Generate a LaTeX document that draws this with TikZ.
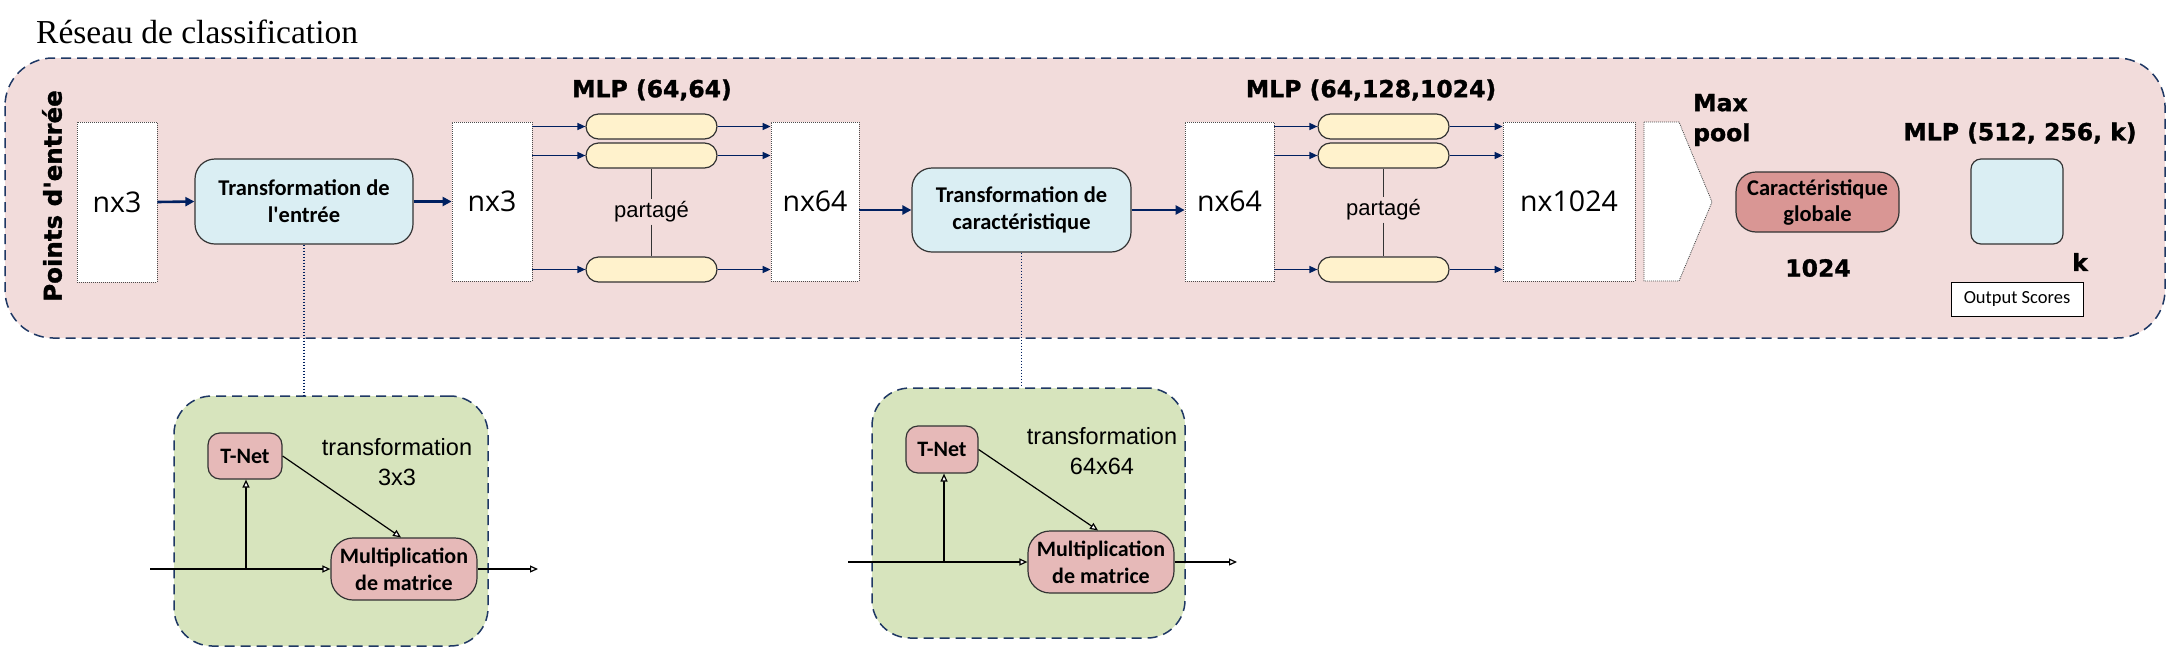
\documentclass[tikz,border=0pt]{standalone}
\usepackage{fontspec}
\setmainfont{Liberation Serif}
\newfontfamily\heavy{DejaVu Sans}[BoldFeatures={FakeBold=1.2}]
\newfontfamily\calib{Carlito}
\newfontfamily\opens{Open Sans}
\newfontfamily\arialf{Liberation Sans}
\usetikzlibrary{arrows.meta}
\definecolor{navy}{HTML}{1F3864}
\definecolor{arrnavy}{HTML}{002060}
\definecolor{outerfill}{HTML}{F2DCDB}
\definecolor{bluefill}{HTML}{DAEEF3}
\definecolor{pillfill}{HTML}{FFF2CC}
\definecolor{globfill}{HTML}{D99694}
\definecolor{tnetfill}{HTML}{E6B9B8}
\definecolor{greenfill}{HTML}{D7E4BD}
\begin{document}
\begin{tikzpicture}[x=1pt,y=-1pt,
  nxbox/.style={draw=black!70, dash pattern=on 1pt off 1pt, line width=0.8pt, fill=white,
    inner sep=0pt, font=\opens\fontsize{28.5}{34}\selectfont},
  bluebox/.style={fill=bluefill, draw=black!80, line width=1.2pt, rounded corners=20pt,
    inner sep=0pt, align=center, font=\calib\bfseries\fontsize{22.5}{27}\selectfont},
  pill/.style={fill=pillfill, draw=black!80, line width=1.2pt, rounded corners=12.5pt,
    minimum width=131pt, minimum height=25pt, inner sep=0pt},
  heavylbl/.style={font=\heavy\bfseries\fontsize{23.5}{30}\selectfont, inner sep=0pt},
  sharelbl/.style={font=\arialf\fontsize{22}{26}\selectfont, inner sep=2pt},
  narrowarr/.style={draw=arrnavy, line width=1.5pt, -{Triangle[length=8pt,width=7pt]}},
  thickarr/.style={draw=arrnavy, line width=2.6pt, -{Triangle[length=9pt,width=9pt]}},
  container/.style={draw=navy, line width=1.5pt, dash pattern=on 10pt off 6pt},
  greenbox/.style={container, fill=greenfill, rounded corners=38pt, inner sep=0pt},
  pinkbox/.style={fill=tnetfill, draw=black!80, line width=1.2pt, inner sep=0pt, align=center,
    font=\calib\bfseries\fontsize{22}{27}\selectfont},
  garrow/.style={draw=black, line width=1.2pt, -{Triangle[fill=white,length=8pt,width=7pt]}},
  dotline/.style={draw=arrnavy, line width=1.4pt, dash pattern=on 1.5pt off 1.5pt},
  sharedline/.style={draw=black!80, line width=1.2pt}
]
\useasboundingbox (0,0) rectangle (2170,651);

% title
\node[anchor=base west, inner sep=0pt, font=\fontsize{33.5}{40}\selectfont] (title) at (36,43) {Réseau de classification};

% outer container
\draw[container, fill=outerfill, rounded corners=48pt] (5,58) rectangle (2165,338);

\node[heavylbl, font=\heavy\bfseries\fontsize{24.5}{30}\selectfont, rotate=90] (pe) at (52,196) {Points d'entrée};

% main chain
\node[nxbox, minimum width=80pt, minimum height=160pt] (a1) at (117,202) {nx3};
\node[bluebox, minimum width=218pt, minimum height=85pt] (te) at (304,201.5) {Transformation de\\l'entrée};
\node[nxbox, minimum width=80pt, minimum height=159pt] (a2) at (492,201.5) {nx3};

\node[heavylbl] (mlp1) at (652,90) {MLP (64,64)};
\node[pill] (p11) at (651.5,126.5) {};
\node[pill] (p12) at (651.5,155.5) {};
\node[pill] (p13) at (651.5,269.5) {};
\node[sharelbl] (s1) at (651.5,212) {partagé};

\node[nxbox, minimum width=88pt, minimum height=159pt] (c1) at (815,201.5) {nx64};
\node[bluebox, minimum width=219pt, minimum height=84pt] (tc) at (1021.5,210) {Transformation de\\caractéristique};
\node[nxbox, minimum width=89pt, minimum height=159pt] (c2) at (1229.5,201.5) {nx64};

\node[heavylbl] (mlp2) at (1371,90) {MLP (64,128,1024)};
\node[pill] (p21) at (1383.5,126.5) {};
\node[pill] (p22) at (1383.5,155.5) {};
\node[pill] (p23) at (1383.5,269.5) {};
\node[sharelbl] (s2) at (1383.5,210) {partagé};

\node[nxbox, minimum width=132pt, minimum height=159pt] (d1) at (1569,201.5) {nx1024};

% max pool shape
\draw[draw=black!70, dash pattern=on 1pt off 1pt, line width=0.8pt, fill=white]
  (1644,122) -- (1679,122) -- (1712,202) -- (1679,281) -- (1644,281) -- cycle;
\node[heavylbl, anchor=west, align=left] (mp) at (1693,120) {Max\\pool};

\node[fill=globfill, draw=black!80, line width=1.2pt, rounded corners=20pt, inner sep=0pt,
  minimum width=163pt, minimum height=60pt, align=center,
  font=\calib\bfseries\fontsize{22.5}{26}\selectfont] (cg) at (1817.5,202) {Caractéristique\\globale};
\node[heavylbl] (n1024) at (1818,268) {1024};

\node[heavylbl] (mlp3) at (2020,133) {MLP (512, 256, k)};
\node[fill=bluefill, draw=black!80, line width=1.2pt, rounded corners=10pt,
  minimum width=92pt, minimum height=85pt, inner sep=0pt] (sq) at (2017,201.5) {};
\node[heavylbl] (k) at (2080,262) {k};
\node[draw=black, line width=1pt, fill=white, minimum width=132pt, minimum height=34pt, inner sep=0pt,
  font=\calib\fontsize{18.5}{22}\selectfont] (os) at (2017,299) {Output Scores};

% main connectors
\draw[thickarr] (a1.east) -- (te.west);
\draw[thickarr] (te.east) -- (a2.west);
\draw[thickarr] (c1.east |- tc.west) -- (tc.west);
\draw[thickarr] (tc.east) -- (c2.west |- tc.east);

\foreach \p in {p11,p12,p13}{
  \draw[narrowarr] (a2.east |- \p.west) -- (\p.west);
  \draw[narrowarr] (\p.east) -- (c1.west |- \p.east);
}
\foreach \p in {p21,p22,p23}{
  \draw[narrowarr] (c2.east |- \p.west) -- (\p.west);
  \draw[narrowarr] (\p.east) -- (d1.west |- \p.east);
}
\draw[sharedline] (p12.south) -- (s1.north);
\draw[sharedline] (s1.south) -- (p13.north);
\draw[sharedline] (p22.south) -- (s2.north);
\draw[sharedline] (s2.south) -- (p23.north);

% green box 1
\node[greenbox, minimum width=314pt, minimum height=250pt] (g1) at (331,521) {};
\node[pinkbox, rounded corners=12pt, minimum width=74pt, minimum height=46pt] (t1) at (245,456) {T-Net};
\node[pinkbox, rounded corners=22pt, minimum width=146pt, minimum height=62pt] (m1) at (404,569) {Multiplication\\de matrice};
\node[font=\arialf\fontsize{23.5}{30}\selectfont, align=center, inner sep=0pt] (tr1) at (397,462) {transformation\\3x3};
\coordinate (in1) at (150,569);
\coordinate (b1) at (246,569);
\coordinate (o1) at (538,569);
\draw[garrow] (in1) -- (m1.west);
\draw[garrow] (b1) -- (b1 |- t1.south);
\draw[garrow] (t1.east) -- ([xshift=-3pt]m1.north);
\draw[garrow] (m1.east) -- (o1);
\draw[dotline] (te.south) -- (te.south |- g1.north);

% green box 2
\node[greenbox, minimum width=313pt, minimum height=250pt] (g2) at (1028.5,513) {};
\node[pinkbox, rounded corners=12pt, minimum width=72pt, minimum height=47pt] (t2) at (942,449.5) {T-Net};
\node[pinkbox, rounded corners=22pt, minimum width=146pt, minimum height=62pt] (m2) at (1101,562) {Multiplication\\de matrice};
\node[font=\arialf\fontsize{23.5}{30}\selectfont, align=center, inner sep=0pt] (tr2) at (1102,451.5) {transformation\\64x64};
\coordinate (in2) at (848,562);
\coordinate (b2) at (944,562);
\coordinate (o2) at (1237,562);
\draw[garrow] (in2) -- (m2.west);
\draw[garrow] (b2) -- (b2 |- t2.south);
\draw[garrow] (t2.east) -- ([xshift=-3pt]m2.north);
\draw[garrow] (m2.east) -- (o2);
\draw[dotline] (tc.south) -- (tc.south |- g2.north);
\end{tikzpicture}
\end{document}
